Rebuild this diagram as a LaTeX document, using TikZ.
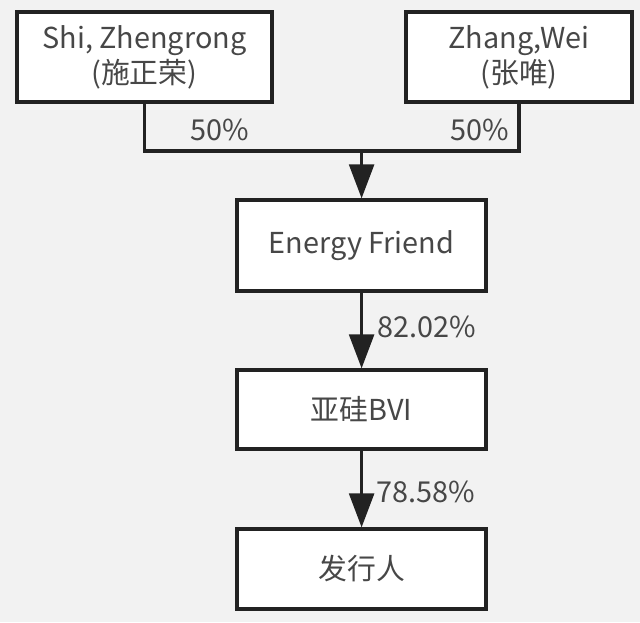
\documentclass[tikz,border=0pt]{standalone}
\usepackage{fontspec}
\setmainfont{Noto Sans CJK SC}
\usetikzlibrary{arrows.meta}
\definecolor{bggray}{HTML}{F2F2F2}
\definecolor{txtgray}{HTML}{474747}
\definecolor{linedark}{HTML}{222222}
\begin{document}
\begin{tikzpicture}[
    x=1cm,
    y=1cm,
    font=\fontsize{20.5}{25}\selectfont,
    entity/.style={draw=linedark, line width=2.3pt, fill=white, text=txtgray, align=center,
        inner sep=0pt},
    pct/.style={text=txtgray, inner sep=0pt},
    link/.style={draw=linedark, line width=2.3pt},
    arr/.style={link, -{Triangle[width=0.62cm,length=0.85cm]}}
]
\fill[bggray] (0,0) rectangle (16,15.55);

% shareholders
\node[entity, minimum width=6.375cm, minimum height=2.25cm] (shi) at (3.61,14.125)
    {\raisebox{-4pt}{Shi, Zhengrong}\\\raisebox{-4pt}{(施正荣)}};
\node[entity, minimum width=5.65cm, minimum height=2.25cm] (zhang) at (12.975,14.125)
    {\raisebox{-4pt}{Zhang,Wei}\\\raisebox{-4pt}{(张唯)}};

% chain
\node[entity, minimum width=6.225cm, minimum height=2.275cm] (ef) at (9.04,9.4125) {\raisebox{-4pt}{Energy Friend}};
\node[entity, minimum width=6.225cm, minimum height=1.975cm] (bvi) at (9.04,5.3125) {\raisebox{-4pt}{亚硅BVI}};
\node[entity, minimum width=6.225cm, minimum height=2.0cm] (issuer) at (9.04,1.325) {\raisebox{-4pt}{发行人}};

\coordinate (jn) at (9.04,11.775);
\draw[link] (shi.south) |- (jn);
\draw[link] (zhang.south) |- (jn);
\draw[arr] (jn) -- (ef.north);
\draw[arr] (ef.south) -- (bvi.north);
\draw[arr] (bvi.south) -- (issuer.north);

% percentages
\node[pct] (p1) at (5.5,12.3) {50\%};
\node[pct] (p2) at (12.0,12.3) {50\%};
\node[pct] (p3) at (10.675,7.375) {82.02\%};
\node[pct] (p4) at (10.65,3.25) {78.58\%};
\end{tikzpicture}
\end{document}
